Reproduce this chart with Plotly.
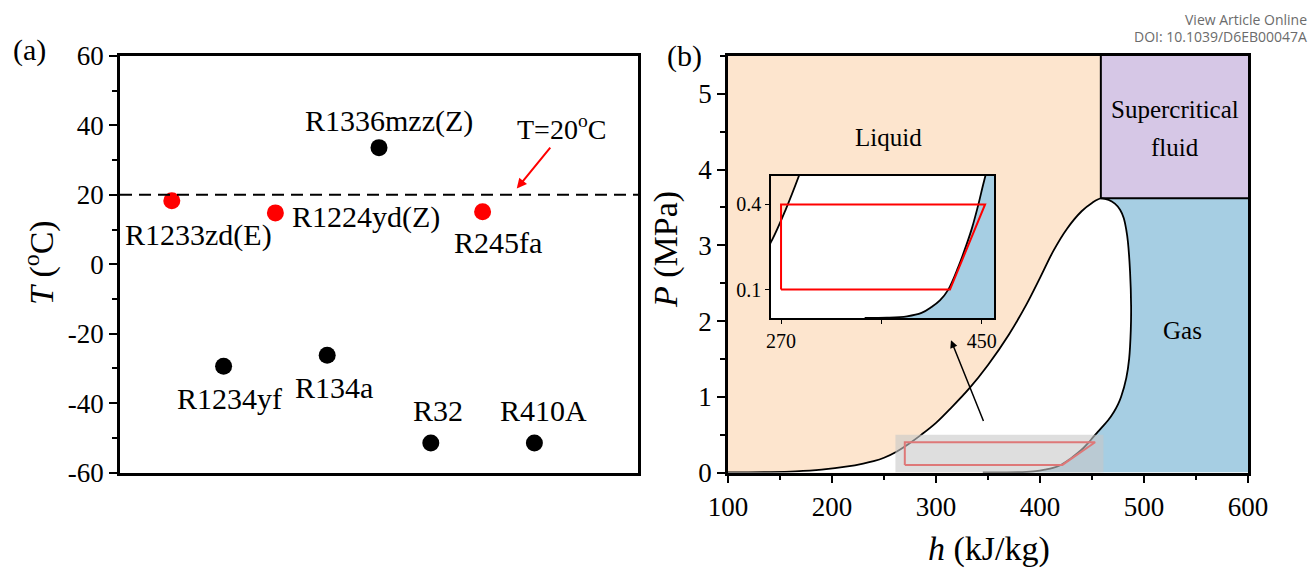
import plotly.graph_objects as go

# ---------------- data ----------------
# (a) normal boiling points of the candidate refrigerants
refrigerants = ["R1233zd(E)", "R1234yf", "R1224yd(Z)", "R134a",
                "R1336mzz(Z)", "R32", "R245fa", "R410A"]
boiling_point = [18.3, -29.4, 14.8, -26.2, 33.6, -51.5, 15.1, -51.5]
highlighted = ["R1233zd(E)", "R1224yd(Z)", "R245fa"]
T_ref = 20
T_ticks = [-60, -40, -20, 0, 20, 40, 60]

# (b) saturation dome on the P-h plane (kJ/kg, MPa)
liquid_h = [100, 140, 165, 190, 215, 230, 240, 250, 262, 274, 286, 300, 315,
            332, 350, 370, 387, 400, 413, 426, 440, 450, 458.5]
liquid_P = [0.0, 0.005, 0.015, 0.038, 0.08, 0.118, 0.15, 0.195, 0.275, 0.38,
            0.5, 0.655, 0.86, 1.11, 1.42, 1.82, 2.22, 2.57, 2.93, 3.22, 3.45,
            3.56, 3.62]
vapour_h = [458.5, 466, 472, 477, 480.5, 483, 484.5, 486.6, 487.6, 487.3,
            485.7, 483, 478, 475, 471, 465.5, 461, 456.5, 451.3, 447, 441.5,
            436.5, 429, 420, 412.5, 405, 396, 383, 365, 345]
vapour_P = [3.62, 3.6, 3.55, 3.47, 3.36, 3.2, 3.05, 2.65, 2.2, 1.88, 1.5,
            1.25, 1.0, 0.9, 0.8, 0.69, 0.62, 0.55, 0.47, 0.4, 0.32, 0.26, 0.18,
            0.1, 0.062, 0.039, 0.018, 0.006, 0.001, 0.0]
cycle_h = [270, 270, 453, 421.5]
cycle_P = [0.1, 0.4, 0.4, 0.1]
zoom_h = [261, 461]
zoom_P = [0.0, 0.5]
h_range = [100, 600]
P_range = [0, 5.5]

# ---------------- style ----------------
SERIF = "Liberation Serif, Times New Roman, serif"
PEACH = "#FDE5CE"
LAVENDER = "#D6C7E6"
BLUE = "#A6CEE3"
TICK_FONT = dict(family=SERIF, size=27, color="black")
crit_h, crit_P = liquid_h[-1], liquid_P[-1]
W, H = 1313, 568

fig = go.Figure()

# ---------------- panel (a) ----------------
xpos = list(range(1, len(refrigerants) + 1))
colors = ["red" if r in highlighted else "black" for r in refrigerants]
fig.add_trace(go.Scatter(x=xpos, y=boiling_point, mode="markers",
                         marker=dict(size=17, color=colors),
                         xaxis="x", yaxis="y", hoverinfo="skip"))

label_shift = {
    "R1233zd(E)": (27, -34, "center"),
    "R1234yf": (6, -32, "center"),
    "R1224yd(Z)": (15, -4, "left"),
    "R134a": (7, -32, "center"),
    "R1336mzz(Z)": (10, 27, "center"),
    "R32": (7, 33, "center"),
    "R245fa": (15, -31, "center"),
    "R410A": (9, 33, "center"),
}
annotations = []
for x, t, name in zip(xpos, boiling_point, refrigerants):
    dx, dy, anchor = label_shift[name]
    annotations.append(dict(x=x, y=t, xref="x", yref="y", text=name,
                            showarrow=False, xshift=dx, yshift=dy,
                            xanchor=anchor, yanchor="middle",
                            font=dict(family=SERIF, size=30, color="black")))

fig.add_shape(type="line", xref="x", yref="y", x0=0, x1=10, y0=T_ref, y1=T_ref,
              line=dict(color="black", width=2, dash="12px,7px"))
annotations.append(dict(x=8.53, y=39.5, xref="x", yref="y",
                        text="T=%d<sup>o</sup>C" % T_ref, showarrow=False,
                        xanchor="center", yanchor="middle",
                        font=dict(family=SERIF, size=28, color="black")))
annotations.append(dict(x=7.66, y=21.8, ax=8.33, ay=34.0, xref="x", yref="y",
                        axref="x", ayref="y", text="", showarrow=True,
                        arrowhead=2, arrowsize=1, arrowwidth=2,
                        arrowcolor="red"))


# ---------------- panel (b) ----------------
def add_phase_map(xa, ya):
    # liquid background (left of the critical enthalpy)
    fig.add_trace(go.Scatter(x=[h_range[0], crit_h, crit_h, h_range[0]],
                             y=[P_range[0], P_range[0], P_range[1], P_range[1]],
                             fill="toself", fillcolor=PEACH, mode="none",
                             xaxis=xa, yaxis=ya, hoverinfo="skip"))
    # superheated vapour region
    fig.add_trace(go.Scatter(x=vapour_h + [h_range[1], h_range[1]],
                             y=vapour_P + [P_range[0], crit_P],
                             fill="toself", fillcolor=BLUE, mode="none",
                             xaxis=xa, yaxis=ya, hoverinfo="skip"))
    # supercritical region
    fig.add_trace(go.Scatter(x=[crit_h, h_range[1], h_range[1], crit_h],
                             y=[crit_P, crit_P, P_range[1], P_range[1]],
                             fill="toself", fillcolor=LAVENDER, mode="none",
                             xaxis=xa, yaxis=ya, hoverinfo="skip"))
    # two-phase dome
    fig.add_trace(go.Scatter(x=liquid_h + vapour_h[1:], y=liquid_P + vapour_P[1:],
                             mode="lines", line=dict(color="black", width=1.8,
                                                     shape="spline"),
                             fill="toself", fillcolor="white",
                             xaxis=xa, yaxis=ya, hoverinfo="skip"))
    # supercritical boundaries
    fig.add_trace(go.Scatter(x=[crit_h, crit_h, None, crit_h, h_range[1]],
                             y=[P_range[1], crit_P, None, crit_P, crit_P],
                             mode="lines", line=dict(color="black", width=2),
                             xaxis=xa, yaxis=ya, hoverinfo="skip"))
    # cycle
    fig.add_trace(go.Scatter(x=cycle_h + cycle_h[:1], y=cycle_P + cycle_P[:1],
                             mode="lines", line=dict(color="red", width=2),
                             xaxis=xa, yaxis=ya, hoverinfo="skip"))


add_phase_map("x2", "y2")
# highlighted low-pressure window
fig.add_trace(go.Scatter(x=[zoom_h[0], zoom_h[1], zoom_h[1], zoom_h[0]],
                         y=[zoom_P[0], zoom_P[0], zoom_P[1], zoom_P[1]],
                         fill="toself", fillcolor="rgba(200,200,200,0.6)",
                         mode="none", xaxis="x2", yaxis="y2", hoverinfo="skip"))
# inset
add_phase_map("x3", "y3")


def paper_text(px, py, text, size, family=SERIF, color="black", angle=0,
               xanchor="center"):
    return dict(x=px / W, y=1 - py / H, xref="paper", yref="paper", text=text,
                showarrow=False, textangle=angle, xanchor=xanchor,
                yanchor="middle", font=dict(family=family, size=size,
                                            color=color))


def region_text(h, p, text):
    return dict(x=h, y=p, xref="x2", yref="y2", text=text, showarrow=False,
                xanchor="center", yanchor="middle",
                font=dict(family=SERIF, size=25, color="black"))


annotations += [
    region_text(254, 4.43, "Liquid"),
    region_text(530, 4.79, "Supercritical"),
    region_text(530, 4.29, "fluid"),
    region_text(537, 1.87, "Gas"),
    dict(x=314.4, y=1.746, ax=346.2, ay=0.661, xref="x2", yref="y2",
         axref="x2", ayref="y2", text="", showarrow=True, arrowhead=2,
         arrowsize=1, arrowwidth=1.5, arrowcolor="black"),
    # panel tags and axis titles
    paper_text(29, 50, "(a)", 30),
    paper_text(684, 56, "(b)", 30),
    paper_text(39, 263, "<i>T</i> (<sup>o</sup>C)", 34, angle=-90),
    paper_text(666, 250, "<i>P</i> (MPa)", 34, angle=-90),
    paper_text(989, 549, "<i>h</i> (kJ/kg)", 34),
    paper_text(1309, 19, "View Article Online", 14, family="Open Sans",
               color="#6b6b6b", xanchor="right"),
    paper_text(1309, 36, "DOI: 10.1039/D6EB00047A", 14, family="Open Sans",
               color="#6b6b6b", xanchor="right"),
]

y_dom = [(H - 472.5) / H, (H - 56) / H]
axis_common = dict(showgrid=False, zeroline=False, showline=True,
                   linecolor="black", linewidth=2.5, mirror=True,
                   automargin=False, tickcolor="black", tickwidth=2,
                   tickfont=TICK_FONT)
inset_axis = dict(showgrid=False, zeroline=False, showline=True,
                  linecolor="black", linewidth=1.5, mirror=True,
                  automargin=False, tickcolor="black", tickwidth=1,
                  ticks="outside", ticklen=4,
                  tickfont=dict(family=SERIF, size=20, color="black"))

fig.update_layout(
    width=W, height=H, margin=dict(l=0, r=0, t=0, b=0, autoexpand=False),
    paper_bgcolor="white", plot_bgcolor="white", showlegend=False,
    xaxis=dict(domain=[120 / W, 638 / W], range=[0, 10],
               showticklabels=False, ticks="", anchor="y", **axis_common),
    yaxis=dict(domain=y_dom, range=[-60, 60], tickvals=T_ticks,
               ticktext=[str(v) for v in T_ticks], ticks="outside",
               ticklen=8, anchor="x",
               minor=dict(dtick=10, ticks="outside", ticklen=5,
                          tickcolor="black", tickwidth=2),
               **axis_common),
    xaxis2=dict(domain=[728 / W, 1248 / W], range=h_range, dtick=100,
                ticks="outside", ticklen=8, anchor="y2",
                minor=dict(dtick=50, ticks="outside", ticklen=5,
                           tickcolor="black", tickwidth=2),
                **axis_common),
    yaxis2=dict(domain=y_dom, range=P_range, dtick=1, ticks="outside",
                ticklen=8, anchor="x2",
                minor=dict(dtick=0.5, ticks="outside", ticklen=5,
                           tickcolor="black", tickwidth=2),
                **axis_common),
    xaxis3=dict(domain=[771 / W, 994 / W], range=zoom_h,
                tickvals=[270, 360, 450], ticktext=["270", "", "450"],
                anchor="y3", **inset_axis),
    yaxis3=dict(domain=[(H - 318) / H, (H - 176) / H], range=zoom_P,
                tickvals=[0.1, 0.4], anchor="x3", **inset_axis),
    annotations=annotations,
)

fig.write_html("out.html")
